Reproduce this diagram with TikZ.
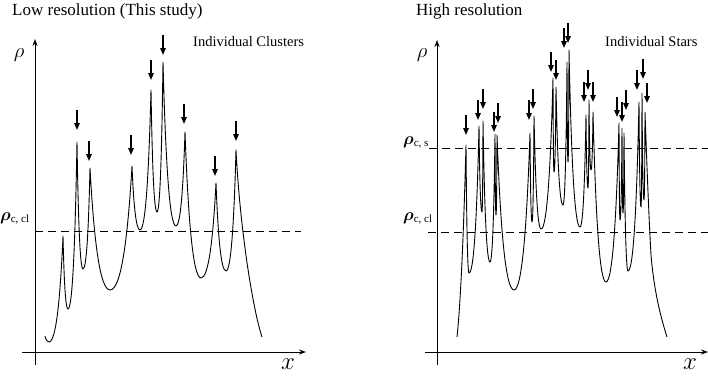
\documentclass[tikz,border=0pt]{standalone}
\usepackage{amsmath}
\usepackage{bm}
\usepackage{fontspec}
\setmainfont{Liberation Serif}
\usetikzlibrary{arrows.meta}

\tikzset{
  axis/.style={line width=0.9pt, -{Stealth[length=7pt,width=5pt]}},
  density/.style={line width=0.9pt, line join=round},
  threshold/.style={line width=0.9pt, dash pattern=on 8pt off 5pt},
  peakmark/.style={line width=1.4pt, -{Triangle[length=7pt,width=5.5pt]}},
}
\newcommand{\rhocrit}[1]{{\fontsize{19}{19}\selectfont$\bm{\rho}$}\raisebox{-2pt}{\fontsize{11}{11}\selectfont c, #1}}

\begin{document}
\begin{tikzpicture}[x=1pt, y=-1pt]
% Pixel coordinates of the 708x378 frame, y counted downward.
% Each valley: min (mx,my) followed by the next peak (px,py).
\useasboundingbox (0,0) rectangle (708,378);

% --- Left panel: low resolution ---
\node[anchor=base west, inner sep=0, font=\fontsize{17}{17}\selectfont] (lowtitle) at (12,15) {Low resolution (This study)};
\node[anchor=base west, inner sep=0, font=\fontsize{14.5}{14.5}\selectfont] (clusters) at (193,46) {Individual Clusters};

\draw[axis] (35,365) -- (35,39);
\draw[axis] (22,352) -- (306,352);
\node[font=\fontsize{22}{22}\selectfont] (rholow) at (19,55) {$\rho$};
\node[font=\fontsize{25}{25}\selectfont] (xlow) at (288,364) {$x$};

\draw[threshold] (35,231) -- (301,231);
\node[anchor=base west, inner sep=0] (rhoclow) at (0,220) {\rhocrit{cl}};

\draw[density] (45,336)
  \foreach \mx/\my/\px/\py [remember=\px as \lx (initially 45), remember=\py as \ly (initially 336)] in
    {49/342/63/236, 68/309/77/142, 83/269/90/168, 110/290/132/166, 140/230/151/90,
     157/212/163/62, 176/226/185/132, 201/278/216/183, 226/271/236/150}
  { .. controls ({\lx+0.2*(\mx-\lx)},{\ly+0.6*(\my-\ly)}) and ({\mx-0.5*(\mx-\lx)},\my) .. (\mx,\my)
    .. controls ({\mx+0.5*(\px-\mx)},\my) and ({\px-0.2*(\px-\mx)},{\py+0.6*(\my-\py)}) .. (\px,\py) }
  .. controls (240,230) and (253,310) .. (262,337);

\foreach \ax/\ay in {77/110, 89/141, 131/135, 151/60, 163/35, 184/104, 215/156, 236/121}
  \draw[peakmark] (\ax,\ay) -- ++(0,20);

% --- Right panel: high resolution ---
\node[anchor=base west, inner sep=0, font=\fontsize{17}{17}\selectfont] (hightitle) at (416,15) {High resolution};
\node[anchor=base west, inner sep=0, font=\fontsize{14.5}{14.5}\selectfont] (stars) at (605,46) {Individual Stars};

\draw[axis] (437,365) -- (437,40);
\draw[axis] (425,352) -- (708,352);
\node[font=\fontsize{22}{22}\selectfont] (rhohigh) at (422,55) {$\rho$};
\node[font=\fontsize{25}{25}\selectfont] (xhigh) at (690,364) {$x$};

\draw[threshold] (429,148) -- (708,148);
\draw[threshold] (428,232) -- (708,232);
\node[anchor=base west, inner sep=0] (rhocs) at (403,144) {\rhocrit{s}};
\node[anchor=base west, inner sep=0] (rhochigh) at (403,220) {\rhocrit{cl}};

\draw[density] (457,337) .. controls (461,300) and (464,220) .. (466,145)
  \foreach \mx/\my/\px/\py [remember=\px as \lx (initially 466), remember=\py as \ly (initially 145)] in
    {469/273/479/126, 482/212/483/121, 490/262/495/134, 496/215/497/135, 514/290/530/133,
     532/222/534/116, 541/229/553/78, 554/172/556/87, 563/205/567/62, 568/162/569/50,
     580/227/586/115, 588/188/589/100, 591/170/593/112, 606/282/619/123, 620/220/622/128,
     623/213/624/133, 628/271/639/102, 641/207/642/93, 644/200/645/112}
  { .. controls ({\lx+0.2*(\mx-\lx)},{\ly+0.6*(\my-\ly)}) and ({\mx-0.5*(\mx-\lx)},\my) .. (\mx,\my)
    .. controls ({\mx+0.5*(\px-\mx)},\my) and ({\px-0.2*(\px-\mx)},{\py+0.6*(\my-\py)}) .. (\px,\py) }
  .. controls (647,170) and (649,220) .. (651,255)
  .. controls (654,290) and (660,315) .. (667,337);

\foreach \ax/\ay in {466/115, 478/100, 483/89, 494/112, 498/103, 529/100, 533/89, 551/52, 556/60,
                     564/28, 568/23, 584/82, 588/70, 593/82, 617/97, 622/102, 626/90, 637/70, 643/59, 647/83}
  \draw[peakmark] (\ax,\ay) -- ++(0,20);
\end{tikzpicture}
\end{document}
